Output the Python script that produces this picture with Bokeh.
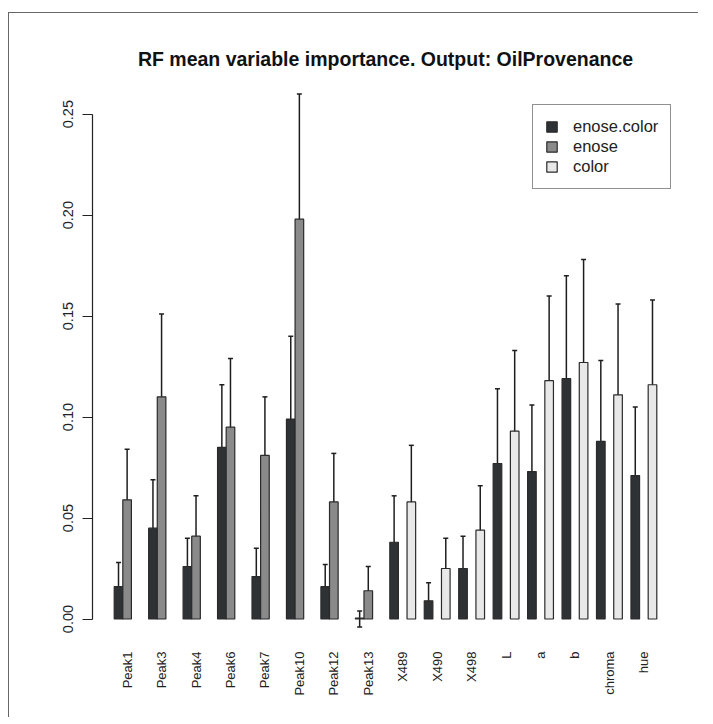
from bokeh.plotting import figure
from bokeh.models import (ColumnDataSource, Range1d, FixedTicker, Whisker, TeeHead,
                          Legend, LegendItem, NumeralTickFormatter)
from bokeh.embed import file_html
from bokeh.resources import INLINE
from math import pi

# ---------------- data ----------------
variables = ["Peak1", "Peak3", "Peak4", "Peak6", "Peak7", "Peak10", "Peak12", "Peak13",
             "X489", "X490", "X498", "L", "a", "b", "chroma", "hue"]
series_names = ["enose.color", "enose", "color"]

enose_color    = [0.016, 0.045, 0.026, 0.085, 0.021, 0.099, 0.016, 0.0005,
                  0.038, 0.009, 0.025, 0.077, 0.073, 0.119, 0.088, 0.071]
enose_color_lo = [0.005, 0.021, 0.010, 0.053, 0.007, 0.058, 0.005, -0.004,
                  0.015, 0.001, 0.009, 0.040, 0.039, 0.068, 0.047, 0.037]
enose_color_hi = [0.028, 0.069, 0.040, 0.116, 0.035, 0.140, 0.027, 0.004,
                  0.061, 0.018, 0.041, 0.114, 0.106, 0.170, 0.128, 0.105]

enose    = [0.059, 0.110, 0.041, 0.095, 0.081, 0.198, 0.058, 0.014,
            None, None, None, None, None, None, None, None]
enose_lo = [0.034, 0.068, 0.021, 0.060, 0.050, 0.136, 0.035, 0.002,
            None, None, None, None, None, None, None, None]
enose_hi = [0.084, 0.151, 0.061, 0.129, 0.110, 0.260, 0.082, 0.026,
            None, None, None, None, None, None, None, None]

color    = [None, None, None, None, None, None, None, None,
            0.058, 0.025, 0.044, 0.093, 0.118, 0.127, 0.111, 0.116]
color_lo = [None, None, None, None, None, None, None, None,
            0.029, 0.010, 0.021, 0.054, 0.075, 0.075, 0.066, 0.073]
color_hi = [None, None, None, None, None, None, None, None,
            0.086, 0.040, 0.066, 0.133, 0.160, 0.178, 0.156, 0.158]

y_ticks = [0.0, 0.05, 0.10, 0.15, 0.20, 0.25]

# ---------------- styles ----------------
fills = ["#2e3235", "#8a8a8a", "#e8e8e8"]
outline = "#2a2a2a"
FONT = "Liberation Sans"

p = figure(width=690, height=705, output_backend="svg", toolbar_location=None,
           x_range=Range1d(-1.52, 66.52), y_range=Range1d(-0.0146, 0.2711),
           min_border_left=83, min_border_right=21, min_border_top=58, min_border_bottom=70,
           background_fill_color="white", border_fill_color="white")
p.outline_line_color = None
p.grid.visible = False
p.styles = {"margin-left": "8px", "margin-top": "12px",
            "border-top": "1px solid #666666", "border-left": "1px solid #666666"}

p.title.text = "RF mean variable importance. Output: OilProvenance"
p.title.align = "center"
p.title.text_font = FONT
p.title.text_font_style = "bold"
p.title.text_font_size = "19.5px"
p.title.text_color = "#111111"
p.title.standoff = 3

# group layout like R barplot(beside=TRUE): 3 slots per group + 1 space
n_groups = len(variables)
all_series = [(enose_color, enose_color_lo, enose_color_hi),
              (enose, enose_lo, enose_hi),
              (color, color_lo, color_hi)]

items = []
for s, (vals, lo, hi) in enumerate(all_series):
    xs, tops, los, his = [], [], [], []
    for g in range(n_groups):
        if vals[g] is None:
            continue
        xs.append(4 * g + s + 1.5)
        tops.append(vals[g])
        los.append(lo[g])
        his.append(hi[g])
    src = ColumnDataSource(dict(x=xs, top=tops, lower=los, upper=his))
    r = p.vbar(x="x", top="top", bottom=0, width=1.0, source=src,
               fill_color=fills[s], line_color=outline, line_width=1.2)
    w = Whisker(base="x", lower="lower", upper="upper", source=src, dimension="height",
                line_color="#1e1e1e", line_width=1.5,
                upper_head=TeeHead(size=5, line_color="#1e1e1e", line_width=1.5),
                lower_head=TeeHead(size=5, line_color="#1e1e1e", line_width=1.5))
    p.add_layout(w)
    items.append(LegendItem(label=series_names[s], renderers=[r]))

# ---------------- axes ----------------
group_centers = [4 * g + 2.5 for g in range(n_groups)]
p.xaxis.ticker = FixedTicker(ticks=group_centers)
p.xaxis.major_label_overrides = {c: v for c, v in zip(group_centers, variables)}
p.xaxis.major_label_orientation = pi / 2
p.xaxis.axis_line_color = None
p.xaxis.major_tick_line_color = None
p.xaxis.minor_tick_line_color = None
p.xaxis.major_tick_out = 0
p.xaxis.major_tick_in = 0
p.xaxis.major_label_standoff = 3
p.xaxis.major_label_text_font = FONT
p.xaxis.major_label_text_font_size = "13px"
p.xaxis.major_label_text_color = "#222222"

p.yaxis.ticker = FixedTicker(ticks=y_ticks)
p.yaxis.formatter = NumeralTickFormatter(format="0.00")
p.yaxis.bounds = (y_ticks[0], y_ticks[-1])
p.yaxis.major_label_orientation = "vertical"
p.yaxis.axis_line_color = "#222222"
p.yaxis.axis_line_width = 1.2
p.yaxis.major_tick_line_color = "#222222"
p.yaxis.major_tick_line_width = 1.2
p.yaxis.major_tick_out = 10
p.yaxis.major_tick_in = 0
p.yaxis.minor_tick_line_color = None
p.yaxis.major_label_standoff = 9
p.yaxis.major_label_text_font = FONT
p.yaxis.major_label_text_font_size = "14.5px"
p.yaxis.major_label_text_color = "#222222"

# ---------------- legend ----------------
legend = Legend(items=items, location=(440, 459), orientation="vertical",
                glyph_width=13, glyph_height=13, label_height=19, spacing=1,
                label_standoff=15, padding=12, margin=0,
                label_text_font=FONT, label_text_font_size="16.5px",
                label_text_color="#222222",
                border_line_color="#222222", border_line_width=1.2,
                background_fill_color="white", background_fill_alpha=1.0)
p.add_layout(legend, "center")

open("out.html", "w").write(file_html(p, INLINE))
